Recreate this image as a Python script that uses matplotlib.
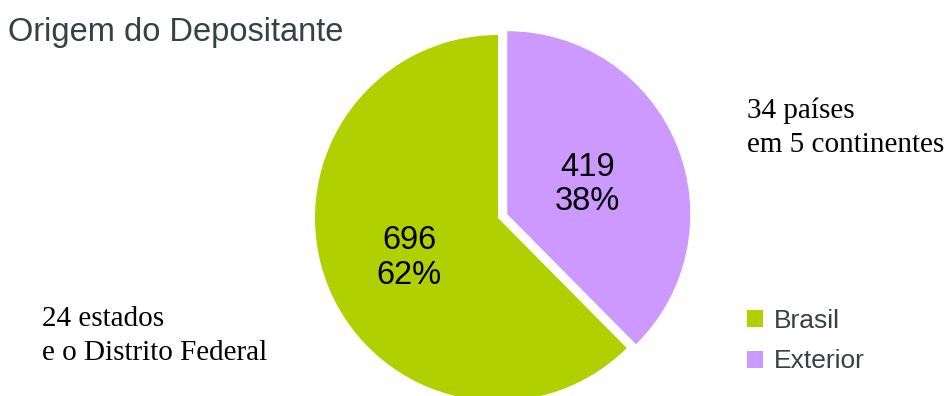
import matplotlib
matplotlib.use("Agg")
import matplotlib.pyplot as plt
from matplotlib.transforms import ScaledTranslation

categories = ["Brasil", "Exterior"]
values = [696, 419]
colors = ["#b0d000", "#cc99ff"]
title = "Origem do Depositante"
note_brasil = "24 estados\ne o Distrito Federal"
note_exterior = "34 países\nem 5 continentes"

W, H = 945, 396
fig = plt.figure(figsize=(W / 100, H / 100), dpi=100)
ax = fig.add_axes([0, 0, 1, 1])

total = sum(values)

def fmt(pct):
    v = int(round(pct * total / 100.0))
    return f"{v}\n{pct:.0f}%"

wedges, texts, autotexts = ax.pie(
    values, colors=colors, startangle=90, counterclock=True,
    center=(498, H - 218), radius=183, explode=[0, 10],
    autopct=fmt, pctdistance=0.5, frame=True,
    textprops=dict(fontsize=23.5, family="Liberation Sans", color="black"),
    wedgeprops=dict(linewidth=0),
)
shift = ScaledTranslation(-4 / 100, -5 / 100, fig.dpi_scale_trans)
for t in autotexts:
    t.set_linespacing(1.15)
    t.set_transform(t.get_transform() + shift)
ax.set_xlim(0, W)
ax.set_ylim(0, H)
ax.set_aspect("equal")
ax.axis("off")

fig.text(8 / W, 1 - 17 / H, title, fontsize=23.5, family="Liberation Sans",
         color="#3a3f44", ha="left", va="top")

fig.text(747 / W, 1 - 97 / H, note_exterior, fontsize=21, family="Liberation Serif",
         color="black", ha="left", va="top", linespacing=1.42)
fig.text(42 / W, 1 - 306 / H, note_brasil, fontsize=21, family="Liberation Serif",
         color="black", ha="left", va="top", linespacing=1.42)

leg = ax.legend(wedges, categories, loc="upper left",
                bbox_to_anchor=(747 / W, 1 - 309 / H), bbox_transform=fig.transFigure,
                frameon=False, borderpad=0, borderaxespad=0,
                handlelength=0.62, handleheight=0.62, handletextpad=0.4,
                labelspacing=0.62,
                prop=dict(family="Liberation Sans", size=19))
for t in leg.get_texts():
    t.set_color("#3a3f44")

fig.savefig("out.png", dpi=100)
